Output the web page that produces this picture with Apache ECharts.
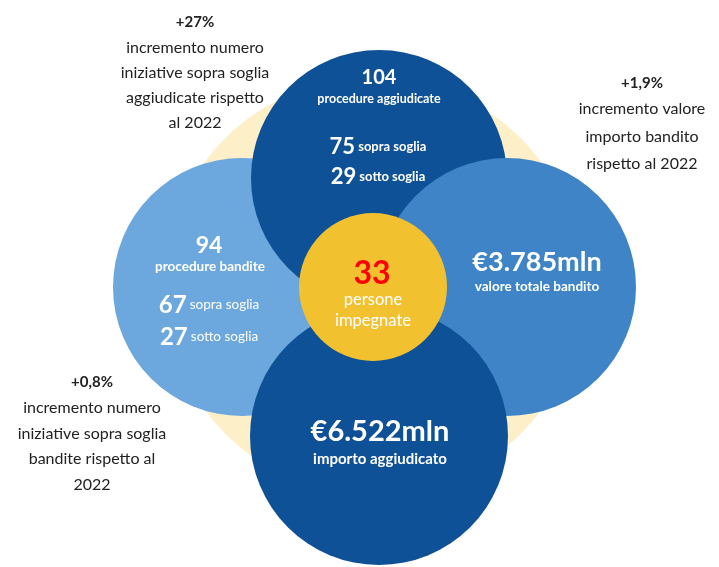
<!DOCTYPE html>
<html><head><meta charset="utf-8">
<script src="https://cdn.jsdelivr.net/npm/echarts@6/dist/echarts.min.js"></script>
<style>html,body{margin:0;padding:0;background:#fff}#c{width:719px;height:567px}</style>
</head><body><div id="c"></div>
<script>
// ---- data ----
var circleNames = ['sfondo', 'procedure bandite', 'procedure aggiudicate', 'valore totale bandito', 'importo aggiudicato', 'persone impegnate'];
var aggiudicate = { totale: 104, sopra: 75, sotto: 29 };
var bandite = { totale: 94, sopra: 67, sotto: 27 };
var valoreBandito = '€3.785mln';
var importoAggiudicato = '€6.522mln';
var persone = 33;
var incrementi = ['+27%', '+1,9%', '+0,8%'];
var noteAggiudicate = ['incremento numero', 'iniziative sopra soglia', 'aggiudicate rispetto', 'al 2022'];
var noteValore = ['incremento valore', 'importo bandito', 'rispetto al 2022'];
var noteBandite = ['incremento numero', 'iniziative sopra soglia', 'bandite rispetto al', '2022'];

// ---- layout (pixel space of the hidden axes) ----
var centersX = [373, 242, 379, 507, 379, 373];
var centersY = [286, 287, 178, 287, 436, 287];
var diameters = [418, 258, 256, 258, 258, 148];
var colors = ['#FDF0C9', '#6CA7DD', '#0F5196', '#3E84C6', '#0F5196', '#F2C12F'];

var FONT = 'Lato';
var chart = echarts.init(document.getElementById('c'));

var items = circleNames.map(function (n, i) {
  return { name: n, value: [centersX[i], centersY[i]], symbolSize: diameters[i], itemStyle: { color: colors[i], opacity: 1 } };
});

function txt(x, y, text, rich, extra) {
  var s = { x: x, y: y, text: text, align: 'center', verticalAlign: 'middle', fontFamily: FONT, rich: rich || {} };
  for (var k in extra) s[k] = extra[k];
  return { type: 'text', z: 100, style: s };
}
function note(x, y0, head, lines, step) {
  var out = [txt(x, y0, head, null, { fill: '#222', fontSize: 15, fontWeight: 'bold' })];
  lines.forEach(function (l, i) {
    out.push(txt(x, y0 + 26 + i * step, l, null, { fill: '#222', fontSize: 16 }));
  });
  return out;
}
var W = '#ffffff';
var richNum = {
  n: { fontFamily: FONT, fontSize: 22, fontWeight: 'bold', fill: W, color: W },
  t: { fontFamily: FONT, fontSize: 13, fontWeight: 'bold', fill: W, color: W }
};
var richNumL = {
  n: { fontFamily: FONT, fontSize: 24, fontWeight: 'bold', fill: W, color: W },
  t: { fontFamily: FONT, fontSize: 13.5, fill: W, color: W }
};

var graphics = []
  .concat(note(195, 22, incrementi[0], noteAggiudicate, 25))
  .concat(note(642, 83, incrementi[1], noteValore, 27.5))
  .concat(note(92, 382, incrementi[2], noteBandite, 25.5))
  .concat([
    txt(379, 78, String(aggiudicate.totale), null, { fill: W, fontSize: 20, fontWeight: 'bold' }),
    txt(379, 99, 'procedure aggiudicate', null, { fill: W, fontSize: 12.5, fontWeight: 'bold' }),
    txt(378, 147, '{n|' + aggiudicate.sopra + '} {t|sopra soglia}', richNum, {}),
    txt(378, 177, '{n|' + aggiudicate.sotto + '} {t|sotto soglia}', richNum, {}),
    txt(209, 246, String(bandite.totale), null, { fill: W, fontSize: 23, fontWeight: 'bold' }),
    txt(210, 267, 'procedure bandite', null, { fill: W, fontSize: 13.5, fontWeight: 'bold' }),
    txt(209, 305, '{n|' + bandite.sopra + '} {t|sopra soglia}', richNumL, {}),
    txt(209, 337, '{n|' + bandite.sotto + '} {t|sotto soglia}', richNumL, {}),
    txt(372, 274, String(persone), null, { fill: '#FF0000', fontSize: 32, fontWeight: 'bold' }),
    txt(373, 300, 'persone', null, { fill: W, fontSize: 16.5 }),
    txt(373, 321, 'impegnate', null, { fill: W, fontSize: 16.5 }),
    txt(537, 262, valoreBandito, null, { fill: W, fontSize: 27, fontWeight: 'bold' }),
    txt(537, 287, 'valore totale bandito', null, { fill: W, fontSize: 13.5, fontWeight: 'bold' }),
    txt(380, 432, importoAggiudicato, null, { fill: W, fontSize: 29, fontWeight: 'bold' }),
    txt(380, 459, 'importo aggiudicato', null, { fill: W, fontSize: 15, fontWeight: 'bold' })
  ]);

chart.setOption({
  animation: false,
  backgroundColor: '#ffffff',
  grid: { left: 0, right: 0, top: 0, bottom: 0 },
  xAxis: { type: 'value', min: 0, max: 719, show: false },
  yAxis: { type: 'value', min: 0, max: 567, inverse: true, show: false },
  series: [{
    type: 'scatter',
    symbol: 'circle',
    data: items,
    itemStyle: { opacity: 1 },
    label: { show: false },
    emphasis: { disabled: true },
    silent: true
  }],
  graphic: graphics
});
</script>
</body></html>
